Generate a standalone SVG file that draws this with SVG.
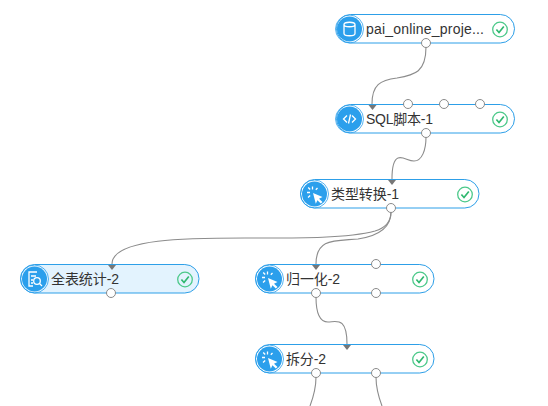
<svg xmlns="http://www.w3.org/2000/svg" width="548" height="406" viewBox="0 0 548 406">
<style>
.box{fill:#fff;stroke:#2d9fe8;stroke-width:1}
.sel{fill:#e3f3fe}
.disc{fill:#2b9fec}
.ring{fill:none;stroke:#2b9fec;stroke-width:.8}
.t{font:14px "Liberation Sans","Noto Sans CJK SC",sans-serif;fill:#333}
.port{fill:#fff;stroke:#8a8a8a;stroke-width:1}
.ok{fill:none;stroke:#4cc98a;stroke-width:1.3}
.ck{fill:none;stroke:#2fb86f;stroke-width:1.7}
.ico{fill:none;stroke:#fff;stroke-width:1.3}
.icf{fill:#fff}
.w{fill:none;stroke:#8c8c8c;stroke-width:1.1}
.a{fill:#777}
</style>
<defs>
<g id="check"><circle class="ok" r="7.3"/><path class="ck" d="M-3.6,0 L-1,3 L3.8,-3"/></g>
<g id="cursor"><path class="icf" d="M-1,-1 L8.500,3 L5,4.700 L8.500,8 L6.800,9.500 L3.400,6.200 L1.800,9.800 Z"/><path class="ico" stroke-width="1.6" d="M-7,-1.500 H-4 M-1.500,-7.500 V-4.500 M-5.800,-6.500 L-3.800,-4.500 M3.500,-6 L1.800,-4.200 M-6,3.500 L-3.800,1.600"/></g>
</defs>
<g id="connectors">
<path class="w" d="M426,47 C426,72 415,75 397,78 C380,80 372,85 372,104"/>
<path class="w" d="M426,137 C426,150 422,161 414,161 C408,161 403,156 398,158 C393,160 392,168 392,179"/>
<path class="w" d="M391,212 C391,222 385,228 375,231 C345,239 290,238 245,238 C190,238 112,238 112,264"/>
<path class="w" d="M391,212 C391,228 378,236 358,239 C335,241 316,238 316,264"/>
<path class="w" d="M316,297 C316,312 319,322 328,322 C336,322 347,316 347,344"/>
<path class="w" d="M316,377 C316,390 313,398 310,406"/>
<path class="w" d="M376,377 C376,390 379,398 382,406"/>
</g>
<g id="node-pai">
<rect class="box" x="336.500" y="14.500" width="178" height="28.500" rx="14.200"/>
<circle class="ring" cx="349.500" cy="29" r="14"/><circle class="disc" cx="349.500" cy="29" r="12.500"/>
<path class="ico" d="M344,24.500 V33.500 C344,36.500 355,36.500 355,33.500 V24.500 C355,21.500 344,21.500 344,24.500 C344,27.500 355,27.500 355,24.500"/>
<text class="t" x="366" y="34" textLength="118">pai_online_proje...</text>
<use href="#check" x="500" y="29.500"/>
<circle class="port" cx="426" cy="43" r="4.500"/>
</g>
<g id="node-sql">
<rect class="box" x="336.500" y="104.500" width="178" height="28.500" rx="14.200"/>
<circle class="ring" cx="349.500" cy="119" r="14"/><circle class="disc" cx="349.500" cy="119" r="12.500"/>
<path class="ico" d="M347,115.500 L343.500,119 L347,122.500 M352,115.500 L355.500,119 L352,122.500 M350.500,114.500 L348.500,123.500"/>
<text class="t" x="366" y="124" textLength="67">SQL脚本-1</text>
<use href="#check" x="500" y="119.500"/>
<circle class="port" cx="408" cy="104" r="4.500"/><circle class="port" cx="444" cy="104" r="4.500"/><circle class="port" cx="480" cy="104" r="4.500"/>
<circle class="port" cx="426" cy="133" r="4.500"/>
<path class="a" d="M368.500,105 H376.500 L372.500,110 Z"/>
</g>
<g id="node-cast">
<rect class="box" x="300.500" y="179.500" width="178.500" height="28.500" rx="14.200"/>
<circle class="ring" cx="314.500" cy="194" r="14"/><circle class="disc" cx="314.500" cy="194" r="12.500"/>
<use href="#cursor" x="314" y="194"/>
<text class="t" x="331" y="199" textLength="68">类型转换-1</text>
<use href="#check" x="465" y="194.500"/>
<circle class="port" cx="391" cy="208" r="4.500"/>
<path class="a" d="M388,180 H396 L392,185 Z"/>
</g>
<g id="node-stats">
<rect class="box sel" x="20.500" y="264.500" width="178.500" height="28.500" rx="14.200"/>
<circle class="ring" cx="34.500" cy="279" r="14"/><circle class="disc" cx="34.500" cy="279" r="12.500"/>
<path class="ico" d="M37,272 H29 V286 H33 M31,276 H36 M31,280 H33 M31,283 H33"/><circle class="ico" cx="37" cy="281" r="3.300"/><path class="ico" d="M39.500,283.500 L42,286"/>
<text class="t" x="51" y="284" textLength="68">全表统计-2</text>
<use href="#check" x="185" y="279.500"/>
<circle class="port" cx="111" cy="293" r="4.500"/>
<path class="a" d="M108,265 H116 L112,270 Z"/>
</g>
<g id="node-norm">
<rect class="box" x="255.500" y="264.500" width="178.500" height="28.500" rx="14.200"/>
<circle class="ring" cx="269.500" cy="279" r="14"/><circle class="disc" cx="269.500" cy="279" r="12.500"/>
<use href="#cursor" x="269" y="279"/>
<text class="t" x="286" y="284" textLength="54">归一化-2</text>
<use href="#check" x="420" y="279.500"/>
<circle class="port" cx="376" cy="264" r="4.500"/>
<circle class="port" cx="316" cy="293" r="4.500"/><circle class="port" cx="376" cy="293" r="4.500"/>
<path class="a" d="M312,265 H320 L316,270 Z"/>
</g>
<g id="node-split">
<rect class="box" x="255.500" y="344.500" width="178.500" height="28.500" rx="14.200"/>
<circle class="ring" cx="269.500" cy="359" r="14"/><circle class="disc" cx="269.500" cy="359" r="12.500"/>
<use href="#cursor" x="269" y="359"/>
<text class="t" x="286" y="364" textLength="40">拆分-2</text>
<use href="#check" x="420" y="359.500"/>
<circle class="port" cx="316" cy="373" r="4.500"/><circle class="port" cx="376" cy="373" r="4.500"/>
<path class="a" d="M343,345 H351 L347,350 Z"/>
</g>
</svg>
